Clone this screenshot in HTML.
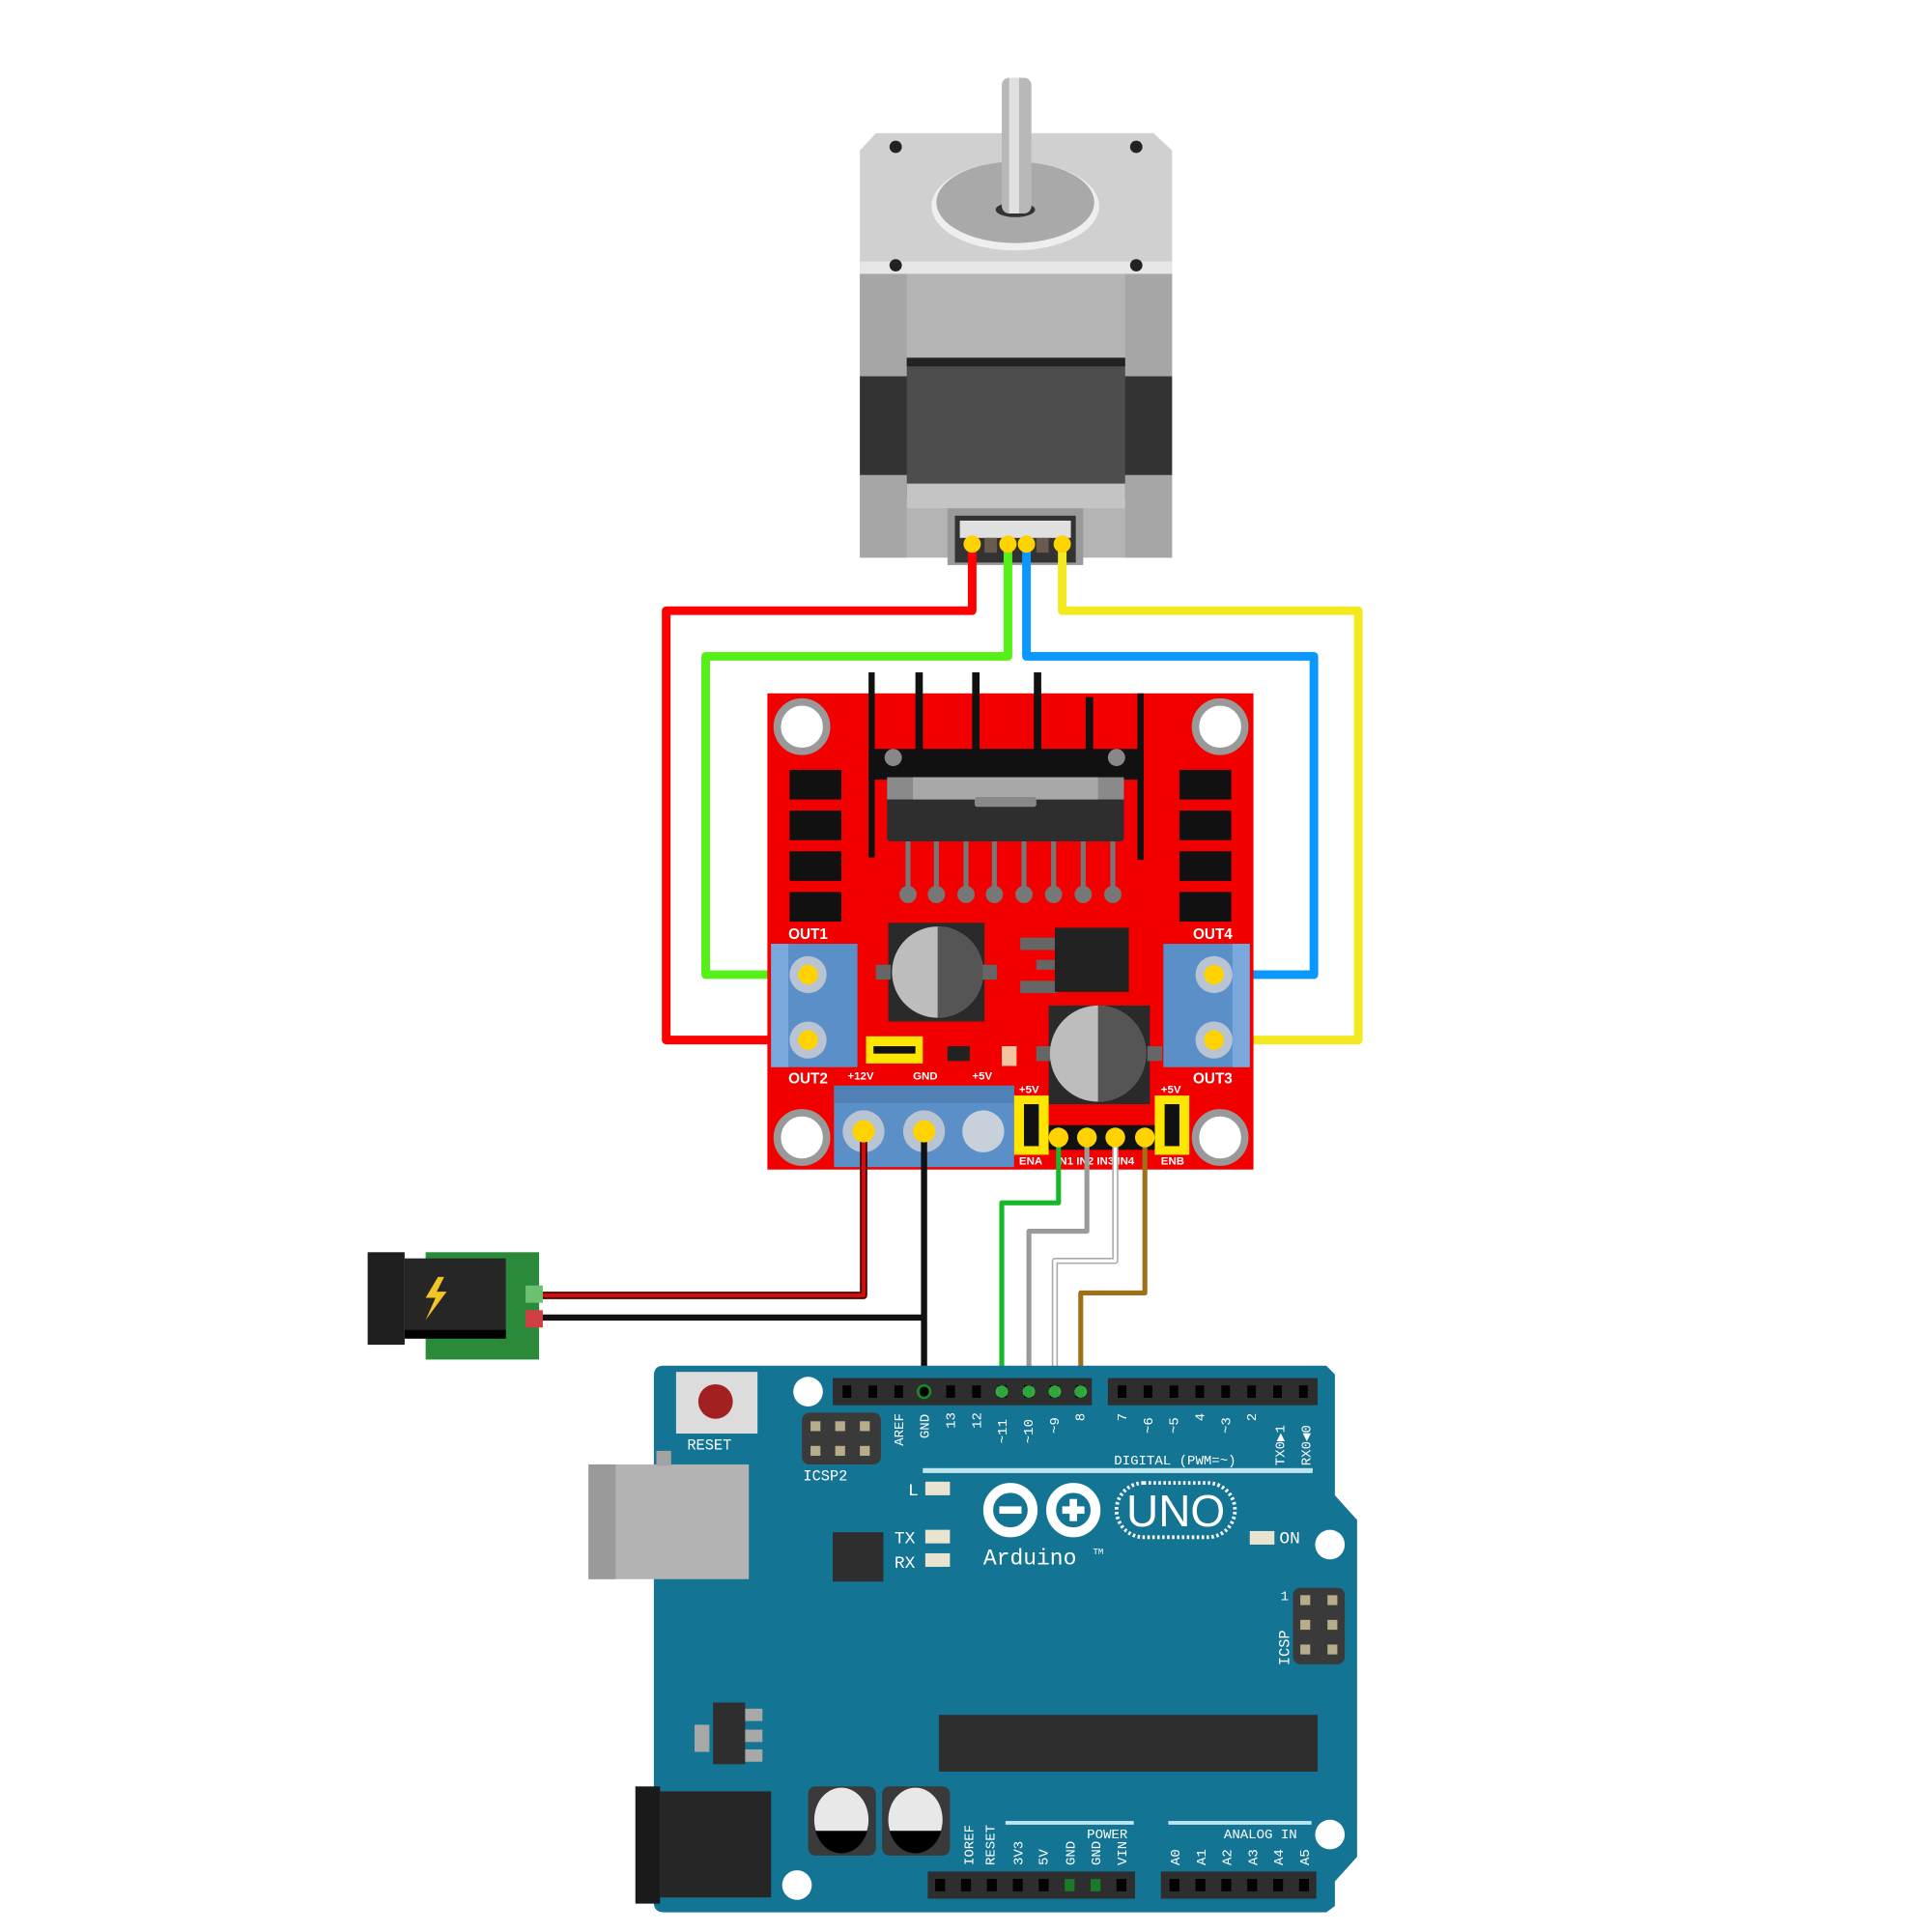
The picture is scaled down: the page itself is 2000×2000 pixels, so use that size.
<!DOCTYPE html>
<html><head><meta charset="utf-8"><style>html,body{margin:0;padding:0;background:#fff}svg{display:block}</style></head>
<body>
<svg width="2000" height="2000" viewBox="0 0 1566 1566" xmlns="http://www.w3.org/2000/svg" font-family="Liberation Mono, monospace">
<rect width="1566" height="1566" fill="#fff"/>

<!-- ===== MOTOR ===== -->
<polygon points="710,108 935,108 950,122 950,222 697,222 697,122" fill="#d0d0d0"/>
<rect x="697" y="212" width="253" height="10" fill="#e6e6e6"/>
<polygon points="697,222 950,222 950,452 697,452" fill="#b4b4b4"/>
<rect x="697" y="222" width="38" height="230" fill="#a6a6a6"/>
<rect x="912" y="222" width="38" height="230" fill="#a6a6a6"/>
<rect x="697" y="305" width="253" height="80" fill="#333"/>
<rect x="735" y="290" width="177" height="115" fill="#4d4d4d"/>
<rect x="735" y="290" width="177" height="7" fill="#222"/>
<rect x="735" y="392" width="177" height="20" fill="#c4c4c4"/>
<circle cx="726" cy="119" r="5" fill="#222"/><circle cx="921" cy="119" r="5" fill="#222"/>
<circle cx="726" cy="215" r="5" fill="#222"/><circle cx="921" cy="215" r="5" fill="#222"/>
<ellipse cx="823" cy="167" rx="68" ry="36" fill="#eee"/>
<ellipse cx="823" cy="164" rx="64" ry="33" fill="#a9a9a9"/>
<ellipse cx="823" cy="170" rx="16" ry="6" fill="#333"/>
<rect x="812" y="63" width="24" height="110" rx="6" fill="#b8b8b8"/>
<rect x="818" y="63" width="8" height="110" fill="#e0e0e0"/>
<rect x="768" y="412" width="110" height="46" fill="#9a9a9a"/>
<rect x="774" y="418" width="98" height="38" fill="#333"/>
<rect x="778" y="422" width="90" height="14" fill="#e0e0e0"/>
<rect x="798" y="436" width="10" height="12" fill="#6b5a50"/>
<rect x="840" y="436" width="10" height="12" fill="#6b5a50"/>

<!-- ===== MOTOR WIRES ===== -->
<g fill="none" stroke-width="7" stroke-linejoin="round" stroke-linecap="round">
<polyline points="788,441 788,495 540,495 540,843 655,843" stroke="#ff0000"/>
<polyline points="817,441 817,532 572,532 572,790 655,790" stroke="#55f018"/>
<polyline points="832,441 832,532 1065,532 1065,790 984,790" stroke="#0a98ff"/>
<polyline points="861,441 861,495 1101,495 1101,843 984,843" stroke="#f2ea1e"/>
</g>
<g fill="#ffd200"><circle cx="788" cy="441" r="7"/><circle cx="817" cy="441" r="7"/><circle cx="832" cy="441" r="7"/><circle cx="861" cy="441" r="7"/></g>

<!-- ===== L298N ===== -->
<rect x="622" y="562" width="394" height="386" fill="#f20000"/>
<g fill="#111">
<rect x="704" y="545" width="5" height="150"/><rect x="742" y="545" width="6" height="70"/>
<rect x="788" y="545" width="6" height="70"/><rect x="838" y="545" width="6" height="70"/>
<rect x="922" y="562" width="5" height="135"/><rect x="880" y="565" width="6" height="50"/>
<rect x="704" y="607" width="223" height="25"/>
</g>
<circle cx="724" cy="614" r="7" fill="#888"/><circle cx="905" cy="614" r="7" fill="#888"/>
<rect x="719" y="630" width="192" height="52" rx="3" fill="#2e2e2e"/>
<rect x="719" y="630" width="192" height="18" fill="#8a8a8a"/>
<rect x="740" y="630" width="150" height="18" fill="#a8a8a8"/>
<rect x="790" y="646" width="50" height="8" rx="2" fill="#888"/>
<g fill="#777" stroke="#777" stroke-width="4">
<line x1="736" y1="682" x2="736" y2="725"/><line x1="759" y1="682" x2="759" y2="725"/><line x1="783" y1="682" x2="783" y2="725"/><line x1="806" y1="682" x2="806" y2="725"/><line x1="830" y1="682" x2="830" y2="725"/><line x1="854" y1="682" x2="854" y2="725"/><line x1="878" y1="682" x2="878" y2="725"/><line x1="902" y1="682" x2="902" y2="725"/>
<circle cx="736" cy="725" r="5"/><circle cx="759" cy="725" r="5"/><circle cx="783" cy="725" r="5"/><circle cx="806" cy="725" r="5"/><circle cx="830" cy="725" r="5"/><circle cx="854" cy="725" r="5"/><circle cx="878" cy="725" r="5"/><circle cx="902" cy="725" r="5"/>
</g>
<g fill="#111">
<rect x="640" y="624" width="42" height="24"/><rect x="640" y="657" width="42" height="24"/><rect x="640" y="690" width="42" height="24"/><rect x="640" y="723" width="42" height="24"/>
<rect x="956" y="624" width="42" height="24"/><rect x="956" y="657" width="42" height="24"/><rect x="956" y="690" width="42" height="24"/><rect x="956" y="723" width="42" height="24"/>
</g>
<g fill="#fff" stroke="#999" stroke-width="6">
<circle cx="650" cy="589" r="20"/><circle cx="989" cy="589" r="20"/><circle cx="650" cy="922" r="20"/><circle cx="989" cy="922" r="20"/>
</g>
<rect x="720" y="748" width="78" height="80" fill="#2a2a2a"/>
<rect x="710" y="782" width="12" height="12" fill="#666"/><rect x="796" y="782" width="12" height="12" fill="#666"/>
<circle cx="760" cy="788" r="37" fill="#bdbdbd"/>
<path d="M760,751 A37,37 0 0,1 760,825 Z" fill="#555"/>
<rect x="850" y="815" width="82" height="80" fill="#2a2a2a"/>
<rect x="840" y="848" width="12" height="12" fill="#666"/><rect x="930" y="848" width="12" height="12" fill="#666"/>
<circle cx="890" cy="854" r="39" fill="#bdbdbd"/>
<path d="M890,815 A39,39 0 0,1 890,893 Z" fill="#555"/>
<rect x="827" y="760" width="30" height="10" fill="#666"/><rect x="827" y="795" width="30" height="10" fill="#666"/><rect x="840" y="778" width="15" height="8" fill="#666"/>
<rect x="855" y="752" width="60" height="52" fill="#222"/>
<rect x="625" y="765" width="70" height="100" fill="#5b8fc8"/><rect x="625" y="765" width="14" height="100" fill="#7aa8dc"/>
<circle cx="655" cy="790" r="15" fill="#b8c4d4"/><circle cx="655" cy="843" r="15" fill="#b8c4d4"/>
<rect x="943" y="765" width="70" height="100" fill="#5b8fc8"/><rect x="999" y="765" width="14" height="100" fill="#7aa8dc"/>
<circle cx="984" cy="790" r="15" fill="#b8c4d4"/><circle cx="984" cy="843" r="15" fill="#b8c4d4"/>
<rect x="676" y="880" width="146" height="66" fill="#5b8fc8"/><rect x="676" y="880" width="146" height="14" fill="#4f80b6"/>
<circle cx="700" cy="917" r="17" fill="#b8c4d4"/><circle cx="749" cy="917" r="17" fill="#b8c4d4"/><circle cx="797" cy="917" r="17" fill="#c8d0dc"/>
<rect x="702" y="840" width="46" height="22" fill="#ffe600"/><rect x="708" y="848" width="34" height="6" fill="#111"/>
<rect x="768" y="848" width="18" height="12" fill="#222"/>
<rect x="812" y="848" width="12" height="16" fill="#f4c4a0"/>
<rect x="822" y="888" width="28" height="48" fill="#ffe600"/><rect x="830" y="895" width="12" height="34" fill="#111"/>
<rect x="936" y="888" width="28" height="48" fill="#ffe600"/><rect x="944" y="895" width="12" height="34" fill="#111"/>
<rect x="850" y="912" width="86" height="20" fill="#111"/>
<g fill="#fff" font-family="Liberation Sans, sans-serif" font-weight="bold">
<text x="639" y="761" font-size="12">OUT1</text><text x="967" y="761" font-size="12">OUT4</text>
<text x="639" y="878" font-size="12">OUT2</text><text x="967" y="878" font-size="12">OUT3</text>
<text x="687" y="875" font-size="9">+12V</text><text x="740" y="875" font-size="9">GND</text><text x="788" y="875" font-size="9">+5V</text>
<text x="826" y="886" font-size="9">+5V</text><text x="941" y="886" font-size="9">+5V</text>
<text x="826" y="944" font-size="9">ENA</text><text x="941" y="944" font-size="9">ENB</text>
<text x="856" y="944" font-size="9">IN1 IN2 IN3 IN4</text>
</g>

<!-- ===== POWER/SIGNAL WIRES ===== -->
<g fill="none" stroke-linejoin="round">
<g stroke="#5a0000" stroke-width="6"><polyline points="700,917 700,1050 437,1050"/></g>
<g stroke="#d01010" stroke-width="3"><polyline points="700,917 700,1050 437,1050"/></g>
<g stroke="#111" stroke-width="5"><polyline points="749,917 749,1128"/><polyline points="437,1068 749,1068"/></g>
<polyline points="858,922 858,975 812,975 812,1128" stroke="#16b82a" stroke-width="4"/>
<polyline points="881,922 881,998 834,998 834,1128" stroke="#9a9a9a" stroke-width="4"/>
<polyline points="904,922 904,1022 855,1022 855,1128" stroke="#aaa" stroke-width="5"/>
<polyline points="904,922 904,1022 855,1022 855,1128" stroke="#fff" stroke-width="2.5"/>
<polyline points="928,922 928,1048 876,1048 876,1128" stroke="#a07018" stroke-width="4"/>
</g>
<g fill="#ffd200">
<circle cx="655" cy="790" r="8"/><circle cx="655" cy="843" r="8"/><circle cx="984" cy="790" r="8"/><circle cx="984" cy="843" r="8"/>
<circle cx="700" cy="917" r="9"/><circle cx="749" cy="917" r="9"/>
<circle cx="858" cy="922" r="8"/><circle cx="881" cy="922" r="8"/><circle cx="904" cy="922" r="8"/><circle cx="928" cy="922" r="8"/>
</g>

<!-- ===== DC JACK ===== -->
<rect x="345" y="1015" width="92" height="87" fill="#2a8a3a"/>
<rect x="298" y="1015" width="30" height="75" fill="#1e1e1e"/>
<rect x="328" y="1020" width="82" height="65" fill="#262626"/>
<rect x="328" y="1078" width="82" height="7" fill="#000"/>
<polygon points="355,1035 345,1052 353,1052 345,1070 362,1047 354,1047 360,1035" fill="#f2c424"/>
<rect x="426" y="1042" width="14" height="14" fill="#6cc070"/>
<rect x="426" y="1062" width="14" height="14" fill="#d04040"/>

<!-- ===== ARDUINO ===== -->
<path d="M538,1107 L1075,1107 L1082,1114 L1082,1212 L1100,1232 L1100,1505 L1082,1525 L1082,1545 L1075,1550 L538,1550 Q530,1550 530,1542 L530,1115 Q530,1107 538,1107 Z" fill="#137494"/>
<rect x="477" y="1187" width="130" height="93" fill="#b3b3b3"/><rect x="477" y="1187" width="22" height="93" fill="#9a9a9a"/>
<rect x="532" y="1176" width="12" height="12" fill="#a3a3a3"/>
<rect x="548" y="1112" width="66" height="50" fill="#dcdcdc"/><circle cx="580" cy="1136" r="14" fill="#a32020"/>
<text x="557" y="1175" font-size="12" fill="#fff">RESET</text>
<circle cx="655" cy="1128" r="12" fill="#fff"/>
<rect x="650" y="1145" width="64" height="42" rx="6" fill="#3a3a3a"/>
<g fill="#b8ad8a"><rect x="657" y="1152" width="8" height="8"/><rect x="677" y="1152" width="8" height="8"/><rect x="697" y="1152" width="8" height="8"/><rect x="657" y="1172" width="8" height="8"/><rect x="677" y="1172" width="8" height="8"/><rect x="697" y="1172" width="8" height="8"/></g>
<text x="651" y="1200" font-size="12" fill="#fff">ICSP2</text>
<rect x="675" y="1117" width="210" height="22" fill="#2e2e2e"/>
<rect x="898" y="1117" width="170" height="22" fill="#2e2e2e"/>
<g fill="#000">
<rect x="683" y="1123" width="7" height="10"/><rect x="704" y="1123" width="7" height="10"/><rect x="725" y="1123" width="7" height="10"/><rect x="746" y="1123" width="7" height="10"/><rect x="767" y="1123" width="7" height="10"/><rect x="788" y="1123" width="7" height="10"/><rect x="809" y="1123" width="7" height="10"/><rect x="830" y="1123" width="7" height="10"/><rect x="851" y="1123" width="7" height="10"/><rect x="872" y="1123" width="7" height="10"/>
<rect x="906" y="1123" width="7" height="10"/><rect x="927" y="1123" width="7" height="10"/><rect x="948" y="1123" width="7" height="10"/><rect x="969" y="1123" width="7" height="10"/><rect x="990" y="1123" width="7" height="10"/><rect x="1011" y="1123" width="7" height="10"/><rect x="1032" y="1123" width="7" height="10"/><rect x="1053" y="1123" width="7" height="10"/>
</g>
<g fill="#fff" font-size="11">
<text transform="translate(732,1172) rotate(-90)">AREF</text>
<text transform="translate(753,1166) rotate(-90)">GND</text>
<text transform="translate(774,1158) rotate(-90)">13</text>
<text transform="translate(795,1158) rotate(-90)">12</text>
<text transform="translate(816,1170) rotate(-90)">~11</text>
<text transform="translate(837,1170) rotate(-90)">~10</text>
<text transform="translate(858,1162) rotate(-90)">~9</text>
<text transform="translate(879,1152) rotate(-90)">8</text>
<text transform="translate(913,1152) rotate(-90)">7</text>
<text transform="translate(934,1162) rotate(-90)">~6</text>
<text transform="translate(955,1162) rotate(-90)">~5</text>
<text transform="translate(976,1152) rotate(-90)">4</text>
<text transform="translate(997,1162) rotate(-90)">~3</text>
<text transform="translate(1018,1152) rotate(-90)">2</text>
<text transform="translate(1041,1188) rotate(-90)">TX0▶1</text>
<text transform="translate(1062,1188) rotate(-90)">RX0◀0</text>
<text x="903" y="1187">DIGITAL (PWM=~)</text>
</g>
<rect x="748" y="1190" width="316" height="4" fill="#bfe6ee"/>
<g fill="#e8e4d0"><rect x="750" y="1201" width="20" height="11"/><rect x="750" y="1240" width="20" height="11"/><rect x="750" y="1259" width="20" height="11"/><rect x="1013" y="1241" width="20" height="11"/></g>
<g fill="#fff" font-size="14"><text x="736" y="1212">L</text><text x="725" y="1251">TX</text><text x="725" y="1271">RX</text><text x="1037" y="1251">ON</text></g>
<rect x="675" y="1242" width="41" height="40" fill="#2e2e2e"/>
<g fill="none" stroke="#fff" stroke-width="8">
<circle cx="819" cy="1224" r="18"/><circle cx="870" cy="1224" r="18"/>
</g>
<g fill="#fff"><rect x="810" y="1221" width="18" height="6"/><rect x="861" y="1221" width="18" height="6"/><rect x="867" y="1215" width="6" height="18"/></g>
<rect x="905" y="1202" width="96" height="44" rx="22" fill="none" stroke="#fff" stroke-width="3" stroke-dasharray="2 2"/>
<text x="953" y="1237" font-family="Liberation Sans, sans-serif" font-size="36" fill="#fff" text-anchor="middle">UNO</text>
<text x="797" y="1268" font-size="18" fill="#fff">Arduino</text><text x="886" y="1260" font-size="7" fill="#fff">TM</text>
<circle cx="1078" cy="1252" r="12" fill="#fff"/>
<rect x="1048" y="1287" width="42" height="62" rx="6" fill="#3a3a3a"/>
<g fill="#b8ad8a"><rect x="1054" y="1293" width="8" height="8"/><rect x="1076" y="1293" width="8" height="8"/><rect x="1054" y="1313" width="8" height="8"/><rect x="1076" y="1313" width="8" height="8"/><rect x="1054" y="1333" width="8" height="8"/><rect x="1076" y="1333" width="8" height="8"/></g>
<text transform="translate(1045,1350) rotate(-90)" font-size="12" fill="#fff">ICSP</text>
<text x="1038" y="1297" font-size="11" fill="#fff">1</text>
<rect x="761" y="1390" width="307" height="46" fill="#2e2e2e"/>
<rect x="563" y="1398" width="12" height="22" fill="#a8a8a8"/>
<rect x="578" y="1380" width="26" height="50" fill="#2e2e2e"/>
<g fill="#a8a8a8"><rect x="604" y="1385" width="14" height="10"/><rect x="604" y="1402" width="14" height="10"/><rect x="604" y="1418" width="14" height="10"/></g>
<rect x="515" y="1448" width="20" height="95" fill="#1a1a1a"/>
<rect x="535" y="1452" width="90" height="86" fill="#262626"/>
<rect x="655" y="1448" width="55" height="56" rx="6" fill="#3a3a3a"/>
<ellipse cx="682" cy="1475" rx="22" ry="26" fill="#e8e8e8"/>
<path d="M661,1484 L703,1484 A22,26 0 0,1 661,1484 Z" fill="#000"/>
<rect x="715" y="1448" width="55" height="56" rx="6" fill="#3a3a3a"/>
<ellipse cx="742" cy="1475" rx="22" ry="26" fill="#e8e8e8"/>
<path d="M721,1484 L763,1484 A22,26 0 0,1 721,1484 Z" fill="#000"/>
<circle cx="646" cy="1528" r="12" fill="#fff"/>
<circle cx="1078" cy="1487" r="12" fill="#fff"/>
<rect x="815" y="1476" width="104" height="3" fill="#bfe6ee"/>
<rect x="947" y="1476" width="116" height="3" fill="#bfe6ee"/>
<g fill="#fff" font-size="11">
<text x="881" y="1490">POWER</text><text x="992" y="1490">ANALOG IN</text>
<text transform="translate(789,1512) rotate(-90)">IOREF</text>
<text transform="translate(806,1512) rotate(-90)">RESET</text>
<text transform="translate(829,1512) rotate(-90)">3V3</text>
<text transform="translate(849,1512) rotate(-90)">5V</text>
<text transform="translate(871,1512) rotate(-90)">GND</text>
<text transform="translate(892,1512) rotate(-90)">GND</text>
<text transform="translate(913,1512) rotate(-90)">VIN</text>
<text transform="translate(956,1512) rotate(-90)">A0</text>
<text transform="translate(977,1512) rotate(-90)">A1</text>
<text transform="translate(998,1512) rotate(-90)">A2</text>
<text transform="translate(1019,1512) rotate(-90)">A3</text>
<text transform="translate(1040,1512) rotate(-90)">A4</text>
<text transform="translate(1061,1512) rotate(-90)">A5</text>
</g>
<rect x="752" y="1517" width="168" height="22" fill="#2e2e2e"/>
<rect x="941" y="1517" width="126" height="22" fill="#2e2e2e"/>
<g fill="#000">
<rect x="758" y="1523" width="8" height="10"/><rect x="779" y="1523" width="8" height="10"/><rect x="800" y="1523" width="8" height="10"/><rect x="821" y="1523" width="8" height="10"/><rect x="842" y="1523" width="8" height="10"/><rect x="905" y="1523" width="8" height="10"/>
<rect x="948" y="1523" width="8" height="10"/><rect x="969" y="1523" width="8" height="10"/><rect x="990" y="1523" width="8" height="10"/><rect x="1011" y="1523" width="8" height="10"/><rect x="1032" y="1523" width="8" height="10"/><rect x="1053" y="1523" width="8" height="10"/>
</g>
<g fill="#1a7a2a"><rect x="863" y="1523" width="8" height="10"/><rect x="884" y="1523" width="8" height="10"/></g>
<g fill="none" stroke-width="2"><circle cx="749" cy="1128" r="5" stroke="#1a8a2a"/></g>
<g fill="#3ad04a" opacity="0.8"><circle cx="812" cy="1128" r="5"/><circle cx="834" cy="1128" r="5"/><circle cx="855" cy="1128" r="5"/><circle cx="876" cy="1128" r="5"/></g>
</svg>
</body></html>
